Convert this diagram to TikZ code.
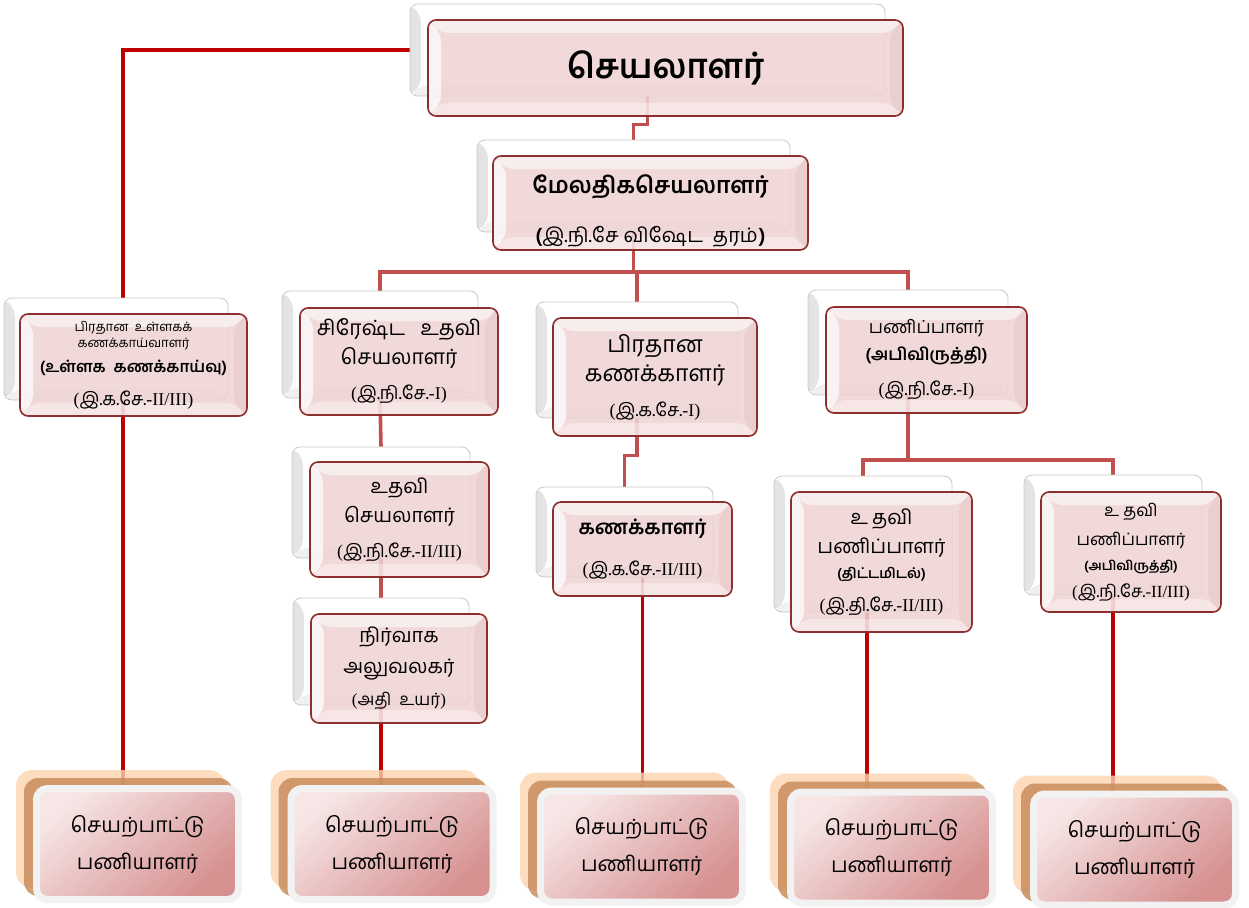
\documentclass[tikz,border=0pt]{standalone}
\usepackage{fontspec}
\newfontfamily\tam[Script=Tamil]{Hind Madurai}
\newfontfamily\lat{Liberation Serif}
\usetikzlibrary{calc}
\pgfdeclarelayer{bg}
\pgfsetlayers{bg,main}
\definecolor{frontfill}{HTML}{EFD3D3}
\definecolor{frontdraw}{HTML}{8E2F2F}
\definecolor{backdraw}{HTML}{C8C8C8}
\definecolor{redline}{HTML}{C00000}
\definecolor{mutedline}{HTML}{C0504D}
\definecolor{peach}{HTML}{FCD3B0}
\definecolor{tanlayer}{HTML}{C98E5C}
\definecolor{framegrey}{HTML}{F2F2F2}
\definecolor{pinkA}{HTML}{F7E6E6}
\definecolor{pinkB}{HTML}{D69090}
\newcommand{\tsz}[2]{\fontsize{#1}{#2}\selectfont}
\newcommand{\lt}[1]{{\lat #1}}
\begin{document}
\begin{tikzpicture}[x=1pt,y=-1pt,
  backbox/.style={draw=backdraw, fill=white, rounded corners=8pt, line width=0.8pt, inner sep=0pt,
    path picture={
      \shade[left color=gray!22, right color=white]
        (path picture bounding box.north west) -- ([shift={(11pt,-11pt)}]path picture bounding box.north west)
        -- ([shift={(11pt,11pt)}]path picture bounding box.south west) -- (path picture bounding box.south west) -- cycle;
      \fill[gray!12]
        (path picture bounding box.south west) -- (path picture bounding box.south east)
        -- ([shift={(-11pt,11pt)}]path picture bounding box.south east) -- ([shift={(11pt,11pt)}]path picture bounding box.south west) -- cycle;
    }},
  frontbox/.style={draw=frontdraw, line width=1.6pt, fill=frontfill, fill opacity=0.86, text opacity=1,
    rounded corners=8pt, inner sep=0pt, align=center, font=\tam\tsz{20}{29},
    path picture={
      \fill[white, opacity=0.55]
        (path picture bounding box.north west) -- (path picture bounding box.north east)
        -- ([shift={(-13pt,-13pt)}]path picture bounding box.north east) -- ([shift={(13pt,-13pt)}]path picture bounding box.north west) -- cycle;
      \fill[white, opacity=0.7]
        (path picture bounding box.north west) -- ([shift={(13pt,-13pt)}]path picture bounding box.north west)
        -- ([shift={(13pt,13pt)}]path picture bounding box.south west) -- (path picture bounding box.south west) -- cycle;
      \fill[white, opacity=0.35]
        (path picture bounding box.south west) -- (path picture bounding box.south east)
        -- ([shift={(-13pt,13pt)}]path picture bounding box.south east) -- ([shift={(13pt,13pt)}]path picture bounding box.south west) -- cycle;
      \fill[frontdraw, opacity=0.06]
        (path picture bounding box.north east) -- (path picture bounding box.south east)
        -- ([shift={(-13pt,13pt)}]path picture bounding box.south east) -- ([shift={(-13pt,-13pt)}]path picture bounding box.north east) -- cycle;
    }},
  peachbox/.style={fill=peach, fill opacity=0.8, rounded corners=16pt, inner sep=0pt, minimum width=209, minimum height=118},
  tanbox/.style={fill=tanlayer, fill opacity=0.85, rounded corners=14pt, inner sep=0pt, minimum width=209, minimum height=118},
  opbox/.style={draw=framegrey, line width=7pt, left color=pinkA, right color=pinkB, shading angle=40,
    rounded corners=11pt, inner sep=0pt, minimum width=202, minimum height=111, align=center, font=\tam\tsz{21}{37}},
  redl/.style={draw=redline, line width=3.6pt},
  mutl/.style={draw=mutedline, line width=3.6pt}
]
\useasboundingbox (0,0) rectangle (1249,907);

% ---------- back boxes ----------
\node[backbox, minimum width=475, minimum height=92]  (topB) at (647.5,50) {};
\node[backbox, minimum width=313, minimum height=92]  (secB) at (633.5,186) {};
\node[backbox, minimum width=224, minimum height=102] (LB)   at (116,349) {};
\node[backbox, minimum width=196, minimum height=107] (SAB)  at (380,344.5) {};
\node[backbox, minimum width=202, minimum height=116] (PKB)  at (637,360) {};
\node[backbox, minimum width=200, minimum height=105] (PNB)  at (908,342.5) {};
\node[backbox, minimum width=178, minimum height=111] (USB)  at (381,502.5) {};
\node[backbox, minimum width=176, minimum height=107] (NAB)  at (381,651.5) {};
\node[backbox, minimum width=177, minimum height=90]  (KKB)  at (624.5,532) {};
\node[backbox, minimum width=178, minimum height=136] (UP1B) at (863,544) {};
\node[backbox, minimum width=178, minimum height=120] (UP2B) at (1113,535) {};

% ---------- front boxes ----------
\node[frontbox, minimum width=475, minimum height=96] (top) at (665.5,68)
  {{\bfseries\tsz{34}{40}செயலாளர்}};
\node[frontbox, minimum width=315, minimum height=94] (sec) at (650.5,203)
  {\rule{0pt}{35pt}{\bfseries\tsz{23}{30}மேலதிகசெயலாளர்}\\[20pt]{\tsz{20}{26}\textbf{(}இ.நி.சே விஷேட\ \ தரம்\textbf{)}}};
\node[frontbox, minimum width=227, minimum height=102] (L) at (133.5,365)
  {{\tsz{13}{16}பிரதான\ \ உள்ளகக்}\\[-13pt]{\tsz{13}{16}கணக்காய்வாளர்}\\[-4pt]{\bfseries\tsz{16}{20}(உள்ளக\ \ கணக்காய்வு)}\\[4pt]{\tsz{18}{22}\lt{(}இ.க.சே.\lt{-II/III)}}};
\node[frontbox, minimum width=198, minimum height=107] (SA) at (399,361.5)
  {{\tsz{21}{29}சிரேஷ்ட\ \ \ உதவி}\\{\tsz{21}{29}செயலாளர்}\\[6pt]{\tsz{18}{22}\lt{(}இ.நி.சே.\lt{-I)}}};
\node[frontbox, minimum width=204, minimum height=118] (PK) at (655,377)
  {{\tsz{23}{31}பிரதான}\\{\tsz{23}{31}கணக்காளர்}\\[6pt]{\tsz{18}{22}\lt{(}இ.க.சே.\lt{-I)}}};
\node[frontbox, minimum width=201, minimum height=106] (PN) at (926.5,360)
  {{\tsz{18}{26}பணிப்பாளர்}\\[-2pt]{\bfseries\tsz{17}{22}(அபிவிருத்தி)}\\[6pt]{\tsz{18}{22}\lt{(}இ.நி.சே.\lt{-I)}}};
\node[frontbox, minimum width=179, minimum height=115] (US) at (399.5,519.5)
  {உதவி\\செயலாளர்\\[6pt]{\tsz{18}{22}\lt{(}இ.நி.சே.\lt{-II/III)}}};
\node[frontbox, minimum width=176, minimum height=109] (NA) at (399,668.5)
  {நிர்வாக\\[2pt]அலுவலகர்\\[3pt]{\tsz{17}{22}\lt{(}அதி\ \ உயர்\lt{)}}};
\node[frontbox, minimum width=179, minimum height=94] (KK) at (642.5,549)
  {{\bfseries\tsz{20}{30}கணக்காளர்}\\[12pt]{\tsz{18}{22}\lt{(}இ.க.சே.\lt{-II/III)}}};
\node[frontbox, minimum width=181, minimum height=140] (UP1) at (881.5,562)
  {உ\kern4pt தவி\\பணிப்பாளர்\\[-4pt]{\bfseries\tsz{14}{20}(திட்டமிடல்)}\\[4pt]{\tsz{18}{24}\lt{(}இ.தி.சே.\lt{-II/III)}}};
\node[frontbox, minimum width=180, minimum height=120] (UP2) at (1131,552)
  {{\tsz{17}{22}உ\kern4pt தவி}\\{\tsz{17}{22}பணிப்பாளர்}\\[-4pt]{\bfseries\tsz{13}{18}(அபிவிருத்தி)}\\[-2pt]{\tsz{17}{24}\lt{(}இ.நி.சே.\lt{-II/III)}}};

% ---------- bottom boxes ----------
\foreach \n/\cx/\cy in {B1/137.5/844, B2/392/844, B3/641.5/846.5, B4/891.5/847.5, B5/1134.5/849.5}{
  \node[peachbox] (\n P) at (\cx-17,\cy-15) {};
  \node[tanbox]   (\n T) at (\cx-9,\cy-7) {};
}
\node[opbox] (B1) at (137.5,844)   {செயற்பாட்டு\\பணியாளர்};
\node[opbox] (B2) at (392,844)     {செயற்பாட்டு\\பணியாளர்};
\node[opbox] (B3) at (641.5,846.5) {செயற்பாட்டு\\பணியாளர்};
\node[opbox] (B4) at (891.5,847.5) {செயற்பாட்டு\\பணியாளர்};
\node[opbox] (B5) at (1134.5,849.5){செயற்பாட்டு\\பணியாளர்};

% ---------- connectors ----------
\coordinate (lxN) at ([xshift=7pt]LB.north);
\coordinate (lxS) at ([xshift=7pt]LB.south);
\coordinate (j1) at (secB.south |- 0,272);
\coordinate (j2) at (PNB.south |- 0,460);
\coordinate (up1x) at ([xshift=4pt]UP1B.south);
\begin{pgfonlayer}{bg}
  \draw[redl] (topB.west) -| (lxN);
  \draw[redl] (lxS) -- (lxS |- B1.north);
  \draw[mutl] (topB.south) -- ($(topB.south)+(0,28)$) -| (secB.north);
  \draw[mutl] (secB.south) -- (j1);
  \draw[mutl] (SAB.north) |- (j1) -| (PNB.north);
  \draw[mutl] (PKB.north |- j1) -- (PKB.north);
  \draw[mutl] (SAB.south) -- (USB.north);
  \draw[mutl] (USB.south) -- (NAB.north);
  \draw[redl] (NAB.south) -- (NAB.south |- B2.north);
  \draw[mutl] (PKB.south) -- ($(PKB.south)+(0,37)$) -| (KKB.north);
  \draw[redl] (KK.south |- KKB.south) -- (KK.south |- B3.north);
  \draw[mutl] (PNB.south) -- (j2);
  \draw[mutl] (UP1B.north) |- (j2) -| (UP2B.north);
  \draw[redl] (up1x) -- (up1x |- B4.north);
  \draw[redl] (UP2B.south) -- (UP2B.south |- B5.north);
\end{pgfonlayer}
\end{tikzpicture}
\end{document}
